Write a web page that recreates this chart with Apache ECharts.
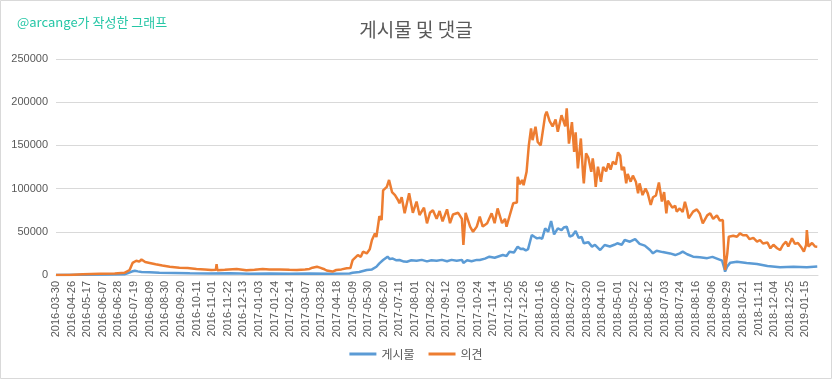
<!DOCTYPE html>
<html>
<head>
<meta charset="utf-8">
<script src="https://cdn.jsdelivr.net/npm/echarts@6/dist/echarts.min.js"></script>
<style>
html,body{margin:0;padding:0;background:#fff;}
#chart{width:832px;height:379px;}
</style>
</head>
<body>
<div id="chart"></div>
<script>
// Tick labels, one every 21 daily categories
const tickLabels = [
  '2016-03-30','2016-04-26','2016-05-17','2016-06-07','2016-06-28','2016-07-19','2016-08-09','2016-08-30','2016-09-20','2016-10-11','2016-11-01','2016-11-22','2016-12-13',
  '2017-01-03','2017-01-24','2017-02-14','2017-03-07','2017-03-28','2017-04-18','2017-05-09','2017-05-30','2017-06-20','2017-07-11','2017-08-01','2017-08-22','2017-09-12','2017-10-03','2017-10-24','2017-11-14','2017-12-05','2017-12-26',
  '2018-01-16','2018-02-06','2018-02-27','2018-03-20','2018-04-10','2018-05-01','2018-05-22','2018-06-12','2018-07-03','2018-07-24','2018-08-16','2018-09-06','2018-09-29','2018-10-21','2018-11-11','2018-12-04','2018-12-25',
  '2019-01-15'
];
const categoryCount = 1025;
const seriesNames = ['게시물', '의견'];

// [category index, value]
const posts = [
  [0,0],[36,300],[72,500],[92,800],[96,2000],[102,4000],[106,5000],[110,4200],[115,3500],[126,3200],[139,2500],[160,2300],[180,2000],[207,1800],[234,2000],[260,1500],[287,1800],[314,1500],[341,1800],[368,1500],[395,1800],
  [399,2700],[408,3500],[418,5800],[425,6500],[431,9600],[435,13500],[440,17300],[446,21200],[449,18500],[453,19000],[458,17000],[462,17300],[468,15500],[472,15400],[478,17000],[485,16500],[492,17500],[499,15800],[505,17000],[512,16500],[519,17500],[526,16000],[532,17500],[539,16500],[546,17500],[548,14000],[553,17000],[559,16000],[566,17500],[570,17300],[577,19000],[583,21200],[590,20000],[597,22000],[601,23100],[606,22000],[610,27000],[616,26000],[621,32800],[625,30000],[628,30500],[632,28500],[635,30000],
  [640,46300],[644,44000],[647,42400],[651,43000],[654,42000],[658,54000],[662,50000],[666,62500],[670,47000],[675,54000],[680,52000],[683,55000],[687,55900],[691,44300],[695,46000],[699,51000],[703,43000],[707,44000],[710,36700],[716,38000],[721,32800],[725,35000],[732,28900],[738,34700],[745,33000],[751,35000],[755,36700],[761,35000],[765,40500],[772,38500],[779,41600],[785,36000],[792,34000],[799,28900],[803,25100],[808,28000],[816,26500],[826,25000],[833,23100],[839,25100],[843,27000],[849,24000],[857,21200],[866,20500],[876,19500],[883,21000],[889,19000],[896,16600],[899,7700],[900,3900],[903,10000],[907,14300],[916,15400],[929,14000],[943,12700],[957,10400],[974,8900],[992,9500],[1010,9000],[1024,9800]
];
const comments = [
  [0,0],[18,0],[36,1000],[59,1500],[79,1800],[92,2500],[99,5800],[103,14000],[108,16500],[112,15500],[115,18000],[120,15000],[126,14000],[134,12500],[143,11000],[153,9500],[166,8500],[177,8000],[189,7000],[200,6500],[209,5800],[215,6000],[216,12500],[217,5500],[227,6000],[243,7000],[256,5500],[267,6000],[278,7000],[287,6500],[301,6500],[314,6000],[324,5800],[335,6500],[341,7000],[345,8500],[351,9500],[355,8500],[360,7000],[364,5200],[372,4000],[377,5800],[384,6500],[391,7800],[396,8000],
  [399,17300],[406,23000],[410,21000],[413,27000],[418,25000],[422,29700],[425,40500],[429,48000],[431,44000],[435,68000],[438,63600],[440,98000],[445,102000],[448,110000],[452,96000],[456,92500],[460,86800],[462,83000],[465,90000],[469,71400],[475,94500],[480,72000],[485,85000],[489,69400],[495,78000],[499,59800],[503,72000],[507,75000],[512,65000],[516,74000],[520,62000],[526,76000],[530,60000],[534,70000],[541,72000],[546,65000],[548,34700],[551,72000],[557,56000],[561,50000],[566,56000],[570,67500],[574,56000],[580,60000],[586,71400],[590,60000],[594,77000],[600,60000],[604,65000],[606,55900],[610,68000],[615,83000],[620,84000],[621,113700],[624,105000],[627,110000],[629,104000],[633,119500],[636,150000],[639,169700],[641,156000],[645,171600],[648,154000],[652,150000],[658,185000],[660,189000],[664,178000],[668,172000],[672,180000],[675,165800],[680,185000],[685,172000],[687,193000],[690,152000],[694,177000],[697,142600],[699,165000],[702,123400],[706,158000],[709,115700],[710,106000],[713,140800],[716,136000],[720,119500],[722,135000],[724,122000],[726,102000],[729,125300],[733,108000],[736,125000],[740,120000],[743,129200],[746,122000],[749,131000],[753,128000],[756,142000],[759,138000],[761,121500],[764,125000],[767,106000],[769,117000],[773,108000],[776,115000],[780,108000],[783,94500],[785,106000],[789,92500],[793,100000],[796,94500],[800,81000],[803,90000],[807,92000],[811,107000],[815,85000],[818,96000],[821,71400],[823,86000],[829,78000],[833,80000],[835,73300],[839,77000],[843,73000],[846,84800],[849,75000],[851,65600],[857,73300],[862,76000],[866,71000],[870,59800],[876,69000],[880,71400],[884,65000],[889,69000],[893,63000],[897,63600],[899,21200],[900,5800],[903,25100],[905,44300],[911,45500],[916,44300],[920,48200],[924,46000],[929,46000],[933,41500],[938,43000],[943,38600],[947,40500],[951,36500],[957,37500],[961,30900],[965,35000],[970,31000],[974,28900],[978,35000],[982,38600],[985,33000],[990,42400],[994,36000],[998,37000],[1003,31500],[1006,27000],[1009,35000],[1010,52000],[1012,33000],[1017,37000],[1021,33000],[1024,32800]
];

const chart = echarts.init(document.getElementById('chart'));
const txt = '#595959';
chart.setOption({
  animation: false,
  backgroundColor: '#ffffff',
  title: {
    text: '게시물 및 댓글', left: 'center', top: 15,
    textStyle: { fontFamily: 'Noto Sans CJK KR', fontSize: 19, fontWeight: 'normal', color: txt }
  },
  graphic: [
    { type: 'rect', shape: { x: 0.5, y: 0.5, width: 831, height: 378 }, style: { fill: 'none', stroke: '#d9d9d9', lineWidth: 1 }, silent: true },
    { type: 'text', left: 17, top: 16, style: { text: '@arcange가 작성한 그래프', fontFamily: 'Noto Sans CJK KR', fontSize: 13, fill: '#26c6a6' } }
  ],
  legend: {
    bottom: 14, left: 'center', icon: 'rect', itemWidth: 27, itemHeight: 3, itemGap: 14,
    textStyle: { fontFamily: 'Noto Sans CJK KR', fontSize: 12, color: txt }
  },
  grid: { left: 56, right: 14, top: 59, bottom: 104 },
  xAxis: {
    type: 'value', min: 0, max: categoryCount, interval: 21,
    axisLine: { show: true, lineStyle: { color: '#d9d9d9' } },
    axisTick: { show: false },
    splitLine: { show: false },
    axisLabel: {
      rotate: 90, margin: 6, fontFamily: 'Liberation Sans', fontSize: 11, color: txt,
      showMaxLabel: false,
      formatter: v => (v % 21 === 0 && tickLabels[v / 21]) ? tickLabels[v / 21] : ''
    }
  },
  yAxis: {
    type: 'value', min: 0, max: 250000, interval: 50000,
    axisLine: { show: false }, axisTick: { show: false },
    splitLine: { lineStyle: { color: '#d9d9d9' } },
    axisLabel: { margin: 8, fontFamily: 'Liberation Sans', fontSize: 11, color: txt, formatter: v => String(v) }
  },
  series: [
    { name: seriesNames[0], type: 'line', data: posts, symbol: 'none', lineStyle: { width: 2.5, color: '#5B9BD5' }, itemStyle: { color: '#5B9BD5' } },
    { name: seriesNames[1], type: 'line', data: comments, symbol: 'none', lineStyle: { width: 2.5, color: '#ED7D31' }, itemStyle: { color: '#ED7D31' } }
  ]
});
</script>
</body>
</html>
